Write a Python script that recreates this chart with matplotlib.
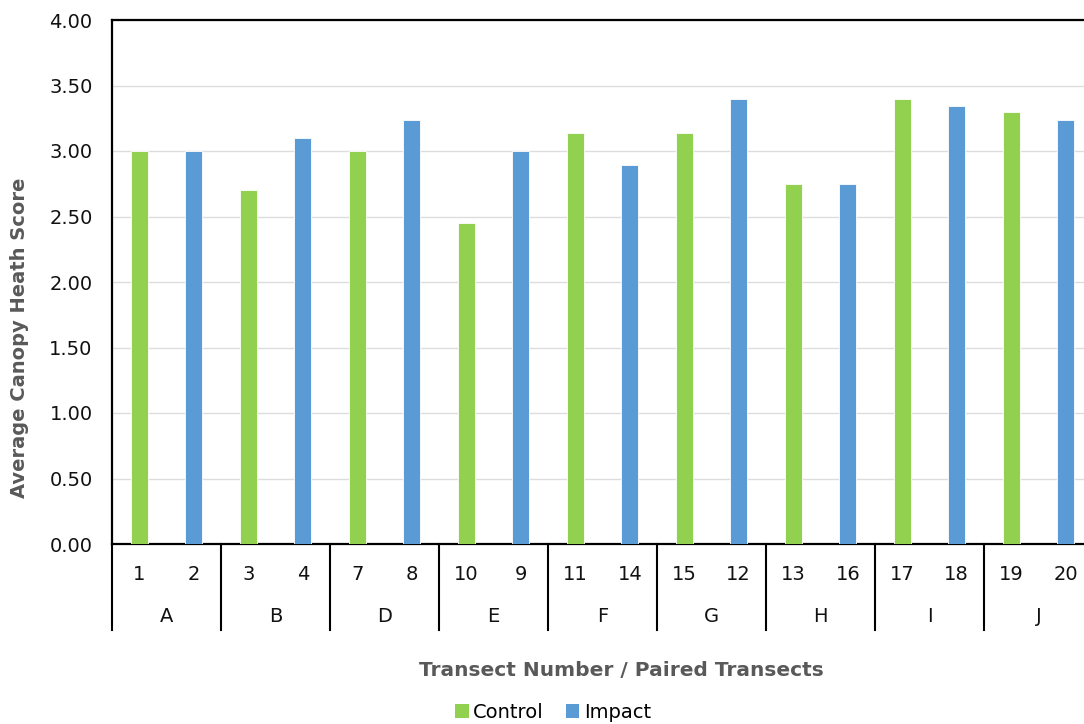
import numpy as np
import matplotlib
matplotlib.use('Agg')
import matplotlib.pyplot as plt
from matplotlib.patches import Patch
from matplotlib.transforms import blended_transform_factory

# transect numbers, paired groups, and average scores
transects = ['1', '2', '3', '4', '7', '8', '10', '9', '11', '14',
             '15', '12', '13', '16', '17', '18', '19', '20']
groups = ['A', 'B', 'D', 'E', 'F', 'G', 'H', 'I', 'J']
control = [3.00, 2.70, 3.00, 2.45, 3.14, 3.14, 2.75, 3.40, 3.30]
impact = [3.00, 3.10, 3.24, 3.00, 2.89, 3.40, 2.75, 3.34, 3.24]

green = '#92D050'
blue = '#5B9BD5'
grey_txt = '#595959'

fig = plt.figure(figsize=(10.84, 7.24), dpi=100)
W, H = 1084, 724
# plot area runs past the right edge, like the cropped original
ax = fig.add_axes([112 / W, (H - 544) / H, (1093 - 112) / W, 524 / H])

x_ctrl = np.arange(len(groups)) * 2
x_imp = x_ctrl + 1
ax.bar(x_ctrl, control, width=0.31, color=green, edgecolor='white', lw=0.6, zorder=3)
ax.bar(x_imp, impact, width=0.31, color=blue, edgecolor='white', lw=0.6, zorder=3)

ax.set_xlim(-0.5, len(transects) - 0.5)
ax.set_ylim(0, 4)
ax.set_yticks(np.arange(0, 4.01, 0.5))
ax.set_yticklabels([f'{v:.2f}' for v in np.arange(0, 4.01, 0.5)])
ax.tick_params(axis='y', length=0, pad=14, labelsize=14, labelcolor='#111111')
ax.set_xticks([])
ax.yaxis.grid(True, color='#DDDDDD', lw=1.0, zorder=0)

for side in ['left', 'top', 'bottom']:
    ax.spines[side].set_color('black')
    ax.spines[side].set_linewidth(1.6)
ax.spines['right'].set_visible(False)

# two-level category axis
trans = blended_transform_factory(ax.transData, ax.transAxes)
depth = -86 / 524
for i, t in enumerate(transects):
    ax.text(i, -31 / 524, t, transform=trans, ha='center', va='center',
            fontsize=14, color='#111111')
for g, name in enumerate(groups):
    ax.text(2 * g + 0.5, -73 / 524, name, transform=trans, ha='center',
            va='center', fontsize=14, color='#111111')
for b in np.arange(-0.5, len(transects), 2):
    ax.plot([b, b], [0, depth], transform=trans, color='black', lw=1.5,
            clip_on=False)

fig.text(20 / W, 1 - 338 / H, 'Average Canopy Heath Score', rotation=90,
         ha='center', va='center', fontsize=14, fontweight='bold', color=grey_txt)
fig.text(621 / W, 1 - 670 / H, 'Transect Number / Paired Transects',
         ha='center', va='center', fontsize=14.5, fontweight='bold', color=grey_txt)

handles = [Patch(facecolor=green, label='Control'), Patch(facecolor=blue, label='Impact')]
fig.legend(handles=handles, loc='center', bbox_to_anchor=(553 / W, 1 - 712 / H),
           ncol=2, frameon=False, fontsize=14, handlelength=0.7,
           handleheight=0.7, handletextpad=0.25, columnspacing=1.1)

fig.savefig('out.png', dpi=100)
